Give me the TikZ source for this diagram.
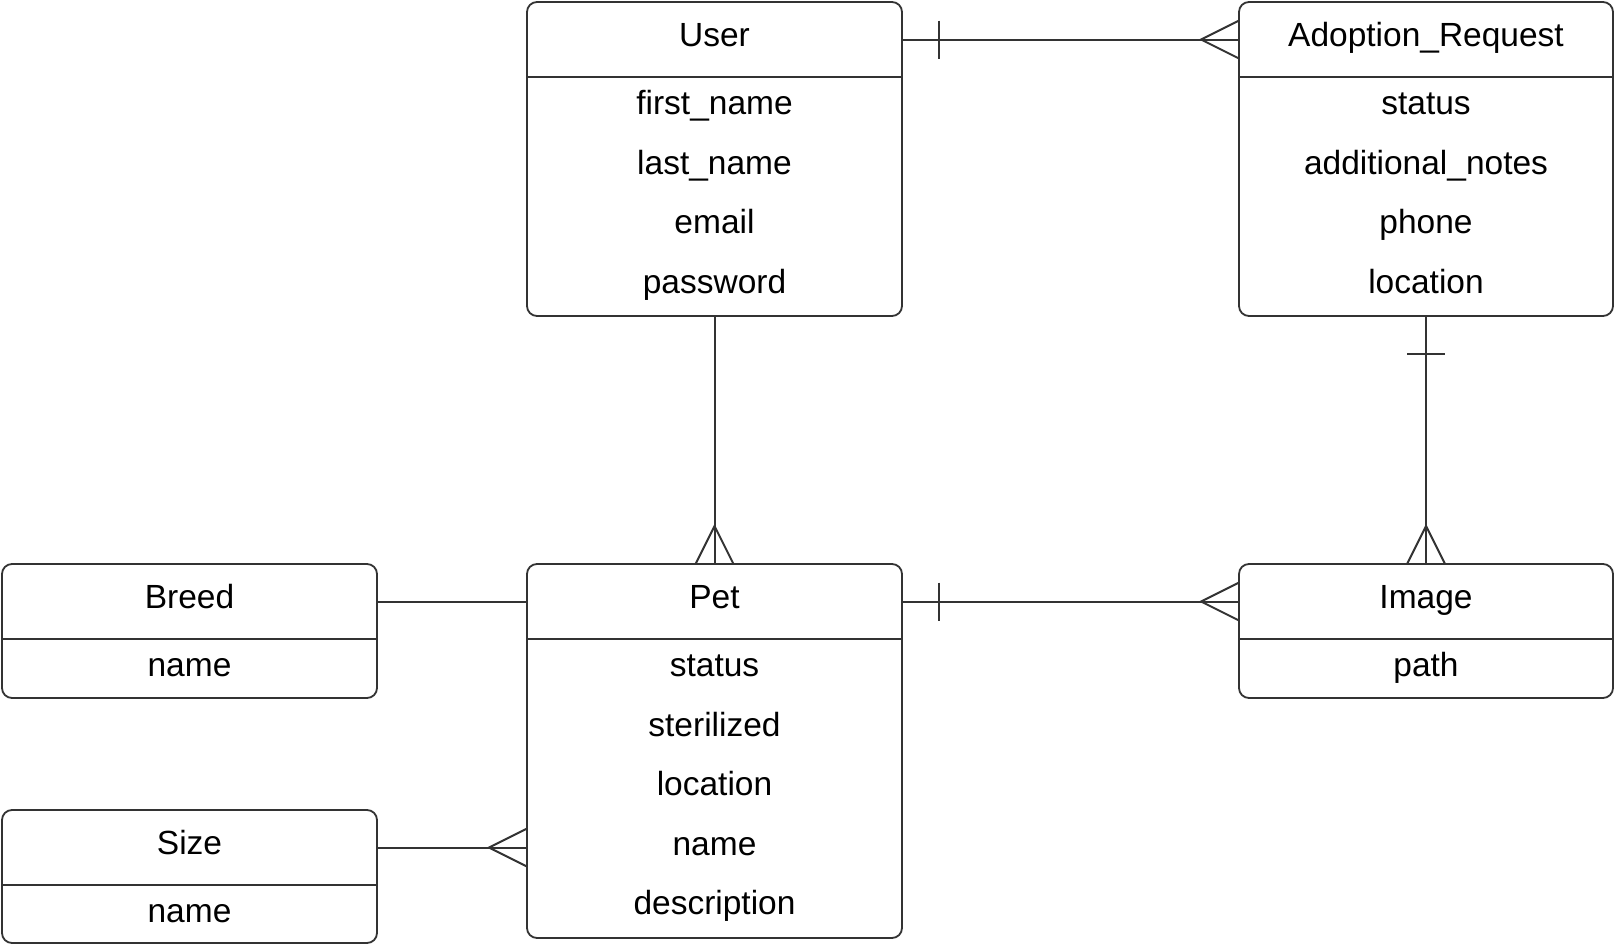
\documentclass[tikz,border=0pt]{standalone}
\usepackage{fontspec}
\setmainfont{Liberation Sans}
\usetikzlibrary{calc}
\definecolor{ln}{HTML}{333333}
\begin{document}
\begin{tikzpicture}[x=1pt,y=-1pt,
  entity/.style={draw=ln, line width=1.8pt, rounded corners=10pt, rectangle,
    anchor=north west, inner sep=0pt, outer sep=0pt, minimum width=375pt},
  etitle/.style={inner sep=0pt, text height=24pt, text depth=11pt,
    font=\fontsize{33.5}{40}\selectfont, text=black},
  field/.style={inner sep=0pt, anchor=base, font=\fontsize{33.5}{40}\selectfont, text=black},
  conn/.style={draw=ln, line width=2pt},
  divider/.style={draw=ln, line width=1.8pt},
]
\useasboundingbox (0,0) rectangle (1614,945);

% entities
\node[entity, minimum height=314pt] (user)  at (527,2) {};
\node[entity, minimum height=314pt, minimum width=374pt] (adopt) at (1239,2) {};
\node[entity, minimum height=134pt] (breed) at (2,564) {};
\node[entity, minimum height=374pt] (pet)   at (527,564) {};
\node[entity, minimum height=134pt, minimum width=374pt] (image) at (1239,564) {};
\node[entity, minimum height=133pt] (size)  at (2,810) {};

% header dividers
\foreach \e in {user,adopt,breed,pet,image,size}
  \draw[divider] ($(\e.north west)+(0,75)$) -- ($(\e.north east)+(0,75)$);

% titles
\node[etitle] (userT)  at ($(user.north)+(0,37.5)$)  {User};
\node[etitle] (adoptT) at ($(adopt.north)+(0,37.5)$) {Adoption\_Request};
\node[etitle] (breedT) at ($(breed.north)+(0,37.5)$) {Breed};
\node[etitle] (petT)   at ($(pet.north)+(0,37.5)$)   {Pet};
\node[etitle] (imageT) at ($(image.north)+(0,37.5)$) {Image};
\node[etitle] (sizeT)  at ($(size.north)+(0,37.5)$)  {Size};

% fields
\foreach \t [count=\i] in {first\_name,last\_name,email,password}
  \node[field] (user-\i) at ($(user.north)+(0,112.5+59.6*\i-59.6)$) {\t};
\foreach \t [count=\i] in {status,additional\_notes,phone,location}
  \node[field] (adopt-\i) at ($(adopt.north)+(0,112.5+59.6*\i-59.6)$) {\t};
\foreach \t [count=\i] in {status,sterilized,location,name,description}
  \node[field] (pet-\i) at ($(pet.north)+(0,112.5+59.6*\i-59.6)$) {\t};
\node[field] (breed-1) at ($(breed.north)+(0,112.5)$) {name};
\node[field] (image-1) at ($(image.north)+(0,112.5)$) {path};
\node[field] (size-1)  at ($(size.north)+(0,112.5)$)  {name};

% connector end points
\coordinate (ua1) at (user.east |- userT);
\coordinate (ua2) at (adopt.west |- userT);
\coordinate (pi1) at (pet.east |- petT);
\coordinate (pi2) at (image.west |- petT);
\coordinate (bp1) at (breed.east |- breedT);
\coordinate (bp2) at (pet.west |- breedT);
\coordinate (sp1) at (size.east |- sizeT);
\coordinate (sp2) at (pet.west |- sizeT);

% User -- Adoption_Request
\draw[conn] (ua1) -- (ua2);
\draw[conn] ($(ua1)+(37,-19)$) -- ($(ua1)+(37,19)$);
\draw[conn] ($(ua2)+(0,-19)$) -- ($(ua2)+(-38,0)$) -- ($(ua2)+(0,19)$);

% Adoption_Request -- Image
\draw[conn] (adopt.south) -- (image.north);
\draw[conn] ($(adopt.south)+(-19,38)$) -- ($(adopt.south)+(19,38)$);
\draw[conn] ($(image.north)+(-19,0)$) -- ($(image.north)+(0,-38)$) -- ($(image.north)+(19,0)$);

% User -- Pet
\draw[conn] (user.south) -- (pet.north);
\draw[conn] ($(pet.north)+(-19,0)$) -- ($(pet.north)+(0,-38)$) -- ($(pet.north)+(19,0)$);

% Breed -- Pet
\draw[conn] (bp1) -- (bp2);

% Pet -- Image
\draw[conn] (pi1) -- (pi2);
\draw[conn] ($(pi1)+(37,-19)$) -- ($(pi1)+(37,19)$);
\draw[conn] ($(pi2)+(0,-19)$) -- ($(pi2)+(-38,0)$) -- ($(pi2)+(0,19)$);

% Size -- Pet
\draw[conn] (sp1) -- (sp2);
\draw[conn] ($(sp2)+(0,-19)$) -- ($(sp2)+(-38,0)$) -- ($(sp2)+(0,19)$);
\end{tikzpicture}
\end{document}
